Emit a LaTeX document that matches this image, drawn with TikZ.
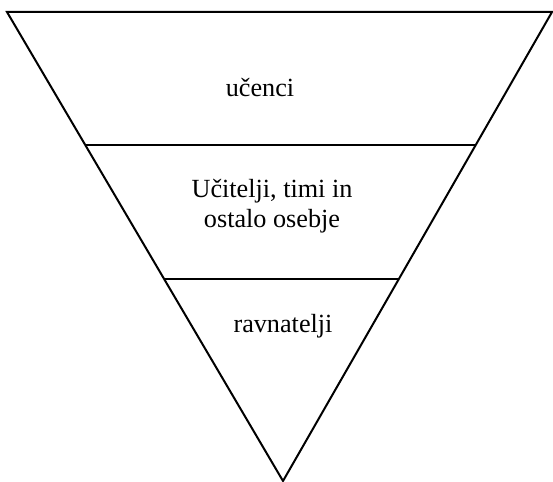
\documentclass[tikz,border=0pt]{standalone}
\usepackage{fontspec}
\setmainfont{Liberation Serif}
\usetikzlibrary{calc}
\begin{document}
\begin{tikzpicture}[x=1bp,y=-1bp,
  edge/.style={line width=2bp,line join=miter},
  label/.style={font=\fontsize{26.3}{30}\selectfont,align=center,inner sep=0pt}]
\useasboundingbox (0,0) rectangle (553,482);
% corners of the inverted pyramid
\coordinate (tl) at (7,12);
\coordinate (tr) at (552,12);
\coordinate (ap) at (283,481);
\draw[edge] (tl) -- (tr) -- (ap) -- cycle;
% dividing lines between the levels
\coordinate (l1) at ($(tl)!133/469!(ap)$);
\coordinate (r1) at ($(tr)!133/469!(ap)$);
\coordinate (l2) at ($(tl)!267/469!(ap)$);
\coordinate (r2) at ($(tr)!267/469!(ap)$);
\draw[edge] (l1) -- (r1);
\draw[edge] (l2) -- (r2);
% level labels
\node[label] (top) at (260,88) {učenci};
\node[label] (mid) at (272,206) {Učitelji, timi in\\ostalo osebje};
\node[label] (bot) at (283,326) {ravnatelji};
\end{tikzpicture}
\end{document}
